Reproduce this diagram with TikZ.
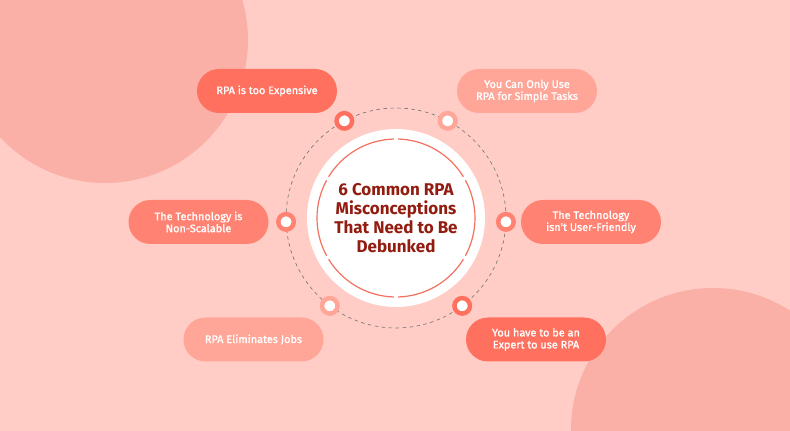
\documentclass[tikz,border=0pt]{standalone}
\usepackage{fontspec}
\setmainfont{Fira Sans}
\newfontfamily\pillfont{Fira Sans}[FakeBold=1.3]
\definecolor{bgpink}{HTML}{FFCDC6}
\definecolor{blobpink}{HTML}{FAB0A6}
\definecolor{pilldark}{HTML}{FF705E}
\definecolor{pillmid}{HTML}{FF8272}
\definecolor{pilllight}{HTML}{FFA699}
\definecolor{ringred}{HTML}{F4715F}
\definecolor{titlered}{HTML}{931C11}
\definecolor{dashgray}{HTML}{707070}

\begin{document}
\begin{tikzpicture}[
                x=1pt,y=1pt,
                pill/.style={fill=#1,rounded corners=22pt,minimum width=140pt,minimum height=44pt,inner sep=0pt,align=center,text=white,font=\pillfont\fontsize{10.9}{12}\selectfont},
                dot/.style={circle,fill=white,draw=#1,line width=4.5pt,minimum size=15.5pt,inner sep=0pt}
            ]
                \useasboundingbox (0,0) rectangle (790,431);
                \fill[bgpink] (0,0) rectangle (790,431);
                \begin{scope}
                    \clip (0,0) rectangle (790,431);
                    \fill[blobpink] (105,391) circle[radius=143];
                    \fill[blobpink] (713,1) circle[radius=142];
                \end{scope}
                \node (hub) [circle,fill=white,minimum size=178pt,inner sep=0pt] at (396,213) {};
                \draw[dashgray,line width=0.6pt,dash pattern=on 3.5pt off 3.5pt] (hub) circle[radius=110];
                \foreach \s in {30,90,...,330}
                    \draw[ringred,line width=1.2pt] ([shift={(\s+1.5:79)}]hub.center) arc[start angle=\s+1.5,end angle=\s+58.5,radius=79];
                \node (title) [font=\bfseries\fontsize{17}{19}\selectfont,text=titlered,align=center] at (hub) {6 Common RPA\\Misconceptions\\That Need to Be\\Debunked};
                \foreach \a/\c [count=\i] in {118/pilldark,62/pilllight,-2/pillmid,182/pillmid,233/pilllight,-53/pilldark}
                    \node (dot\i) [dot=\c] at ([shift={(\a:110)}]hub.center) {};
                \node (expensive) [pill=pilldark] at (267,340) {RPA is too Expensive};
                \node (simple) [pill=pilllight] at (527,340) {You Can Only Use\\RPA for Simple Tasks};
                \node (scalable) [pill=pillmid] at (198.5,209) {The Technology is\\Non-Scalable};
                \node (friendly) [pill=pillmid] at (591,209) {The Technology\\isn't User-Friendly};
                \node (jobs) [pill=pilllight] at (253.5,91.5) {RPA Eliminates Jobs};
                \node (expert) [pill=pilldark] at (536,91.5) {You have to be an\\Expert to use RPA};
            \end{tikzpicture}
\end{document}
